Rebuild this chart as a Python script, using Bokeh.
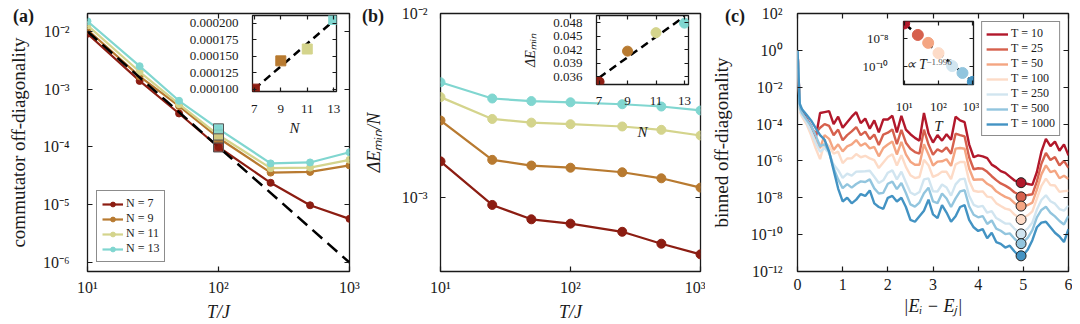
import numpy as np
from bokeh.plotting import figure
from bokeh.models import (Range1d, LinearAxis, FixedTicker, CustomJSTickFormatter,
                          PrintfTickFormatter, Legend, LegendItem, Label, Div)
from bokeh.layouts import row, column
from bokeh.embed import file_html
from bokeh.resources import INLINE

FONT = "Liberation Serif"
INK = "#1a1a1a"

# ---------------- data ----------------
T_vals = [10, 25, 50, 100, 250, 500, 1000]
N_vals = [7, 9, 11, 13]
N_labels = ["N = 7", "N = 9", "N = 11", "N = 13"]
T_labels = ["T = 10", "T = 25", "T = 50", "T = 100", "T = 250", "T = 500", "T = 1000"]
N_colors = ["#8c1d12", "#b87a30", "#d4d48c", "#80d6d0"]
T_colors = ["#b2182b", "#d6604d", "#f4a582", "#fddbc7", "#d1e5f0", "#92c5de", "#4393c3"]

# (a) commutator off-diagonality vs T
comm_N7 = [9.1e-3, 1.39e-3, 3.8e-4, 1.00e-4, 2.4e-5, 9.8e-6, 5.7e-6]
comm_N9 = [1.07e-2, 1.67e-3, 5.1e-4, 1.43e-4, 3.6e-5, 3.7e-5, 4.8e-5]
comm_N11 = [1.27e-2, 2.0e-3, 5.5e-4, 1.61e-4, 4.3e-5, 4.4e-5, 6.0e-5]
comm_N13 = [1.5e-2, 2.5e-3, 6.3e-4, 2.06e-4, 5.2e-5, 5.4e-5, 8.1e-5]
square_T = 100
comm_T100 = [1.00e-4, 1.43e-4, 1.61e-4, 2.06e-4]
power_T = [10, 1000]
power_comm = [1.0e-2, 1.0e-6]
fitA_N = [7, 13]
fitA_comm = [1.00e-4, 2.04e-4]

# (b) Delta E_min / N vs T
gap_N7 = [1.57e-3, 9.1e-4, 7.6e-4, 7.2e-4, 6.5e-4, 5.6e-4, 4.9e-4]
gap_N9 = [2.62e-3, 1.60e-3, 1.49e-3, 1.45e-3, 1.37e-3, 1.27e-3, 1.13e-3]
gap_N11 = [3.51e-3, 2.67e-3, 2.55e-3, 2.50e-3, 2.43e-3, 2.33e-3, 2.17e-3]
gap_N13 = [4.23e-3, 3.45e-3, 3.34e-3, 3.29e-3, 3.21e-3, 3.12e-3, 2.97e-3]
dEmin = [0.0349, 0.0417, 0.0458, 0.0479]
fitB_N = [7, 13]
fitB_dE = [0.0358, 0.0494]

# (c) binned off-diagonality (log10 values) vs |Ei - Ej|
E_bins = [0.0, 0.05] + [round(0.1 * k, 1) for k in range(1, 61)]
logoff_T10 = [0.0, -3.0, -3.3, -3.7, -4.1, -4.8, -3.4, -3.35, -3.3, -4.0, -3.6,
              -4.2, -3.9, -3.6, -3.35, -3.95, -3.7, -4.25, -3.8, -4.45, -3.75,
              -3.75, -3.55, -4.45, -3.55, -4.3, -4.55, -4.75, -4.9, -3.4, -4.5,
              -5.0, -4.6, -4.9, -4.55, -4.85, -3.6, -3.8, -3.9, -5.1, -5.8,
              -5.7, -5.75, -5.85, -6.2, -6.35, -6.55, -6.65, -6.85, -7.05, -7.15,
              -7.2, -7.25, -7.3, -6.6, -5.5, -4.8, -5.2, -4.95, -5.45, -5.1,
              -5.7]
logoff_T25 = [0.0, -3.1, -3.4, -3.8, -4.2, -4.5, -4.2, -4.0, -4.1, -4.6, -4.3,
              -4.88, -4.60, -4.40, -4.16, -4.60, -4.41, -4.82, -4.57, -5.14, -4.57,
              -4.47, -4.29, -5.09, -4.31, -5.01, -5.34, -5.52, -5.60, -4.30, -5.11,
              -5.66, -5.37, -5.50, -5.27, -5.61, -4.52, -4.60, -4.67, -5.80, -6.45,
              -6.40, -6.42, -6.59, -6.83, -7.04, -7.22, -7.34, -7.49, -7.70, -7.83,
              -7.86, -7.85, -7.81, -7.11, -6.15, -5.57, -5.95, -5.79, -6.24, -6.00,
              -6.38]
logoff_T50 = [0.0, -3.2, -3.5, -3.9, -4.4, -4.9, -5.3, -4.6, -4.8, -5.4, -5.1,
              -5.48, -5.21, -5.10, -4.87, -5.18, -5.04, -5.32, -5.24, -5.75, -5.30,
              -5.11, -4.94, -5.65, -4.97, -5.64, -6.04, -6.21, -6.21, -5.10, -5.65,
              -6.25, -6.04, -6.02, -5.91, -6.27, -5.33, -5.30, -5.34, -6.41, -7.02,
              -7.01, -7.01, -7.24, -7.38, -7.65, -7.81, -7.95, -8.05, -8.28, -8.43,
              -8.45, -8.39, -8.26, -7.56, -6.73, -6.24, -6.61, -6.53, -6.94, -6.80,
              -6.98]
logoff_T100 = [0.0, -3.3, -3.6, -4.0, -4.6, -5.3, -5.9, -5.0, -5.2, -5.6, -5.5,
               -6.12, -5.87, -5.86, -5.63, -5.80, -5.72, -5.86, -5.96, -6.39, -6.08,
               -5.79, -5.64, -6.25, -5.69, -6.32, -6.78, -6.93, -6.87, -5.94, -6.23,
               -6.87, -6.76, -6.58, -6.59, -6.99, -6.19, -6.06, -6.06, -7.07, -7.62,
               -7.67, -7.65, -7.94, -7.98, -8.29, -8.45, -8.59, -8.65, -8.90, -9.07,
               -9.07, -8.95, -8.74, -8.04, -7.35, -6.96, -7.31, -7.33, -7.68, -7.64,
               -7.62]
logoff_T250 = [0.0, -3.25, -3.5, -3.9, -4.4, -5.0, -5.5, -5.3, -5.6, -6.2, -6.5,
               -6.92, -6.69, -6.80, -6.58, -6.57, -6.56, -6.53, -6.86, -7.20, -7.05,
               -6.64, -6.51, -7.00, -6.58, -7.16, -7.71, -7.84, -7.69, -7.00, -6.95,
               -7.65, -7.66, -7.28, -7.44, -7.88, -7.27, -7.00, -6.96, -7.89, -8.38,
               -8.49, -8.44, -8.81, -8.72, -9.10, -9.24, -9.40, -9.40, -9.67, -9.87,
               -9.85, -9.66, -9.34, -8.64, -8.12, -7.86, -8.19, -8.32, -8.61, -8.70,
               -8.42]
logoff_T500 = [0.0, -3.1, -3.4, -3.75, -4.1, -4.6, -5.2, -5.1, -5.5, -6.4, -7.0,
               -7.48, -7.26, -7.45, -7.25, -7.11, -7.14, -7.00, -7.49, -7.77, -7.73,
               -7.24, -7.12, -7.53, -7.20, -7.74, -8.36, -8.48, -8.26, -7.75, -7.45,
               -8.20, -8.29, -7.77, -8.04, -8.50, -8.03, -7.65, -7.59, -8.46, -8.92,
               -9.06, -8.99, -9.42, -9.23, -9.67, -9.79, -9.97, -9.93, -10.21, -10.43,
               -10.40, -10.16, -9.76, -9.06, -8.66, -8.49, -8.81, -9.01, -9.26, -9.45,
               -8.98]
logoff_T1000 = [0.0, -2.9, -3.2, -3.5, -3.8, -4.2, -4.6, -4.85, -5.5, -6.5, -7.5,
                -8.2, -8.0, -8.3, -8.1, -7.8, -7.9, -7.6, -8.3, -8.5, -8.6,
                -8.0, -7.9, -8.2, -8.0, -8.5, -9.2, -9.3, -9.0, -8.7, -8.1,
                -8.9, -9.1, -8.4, -8.8, -9.3, -9.0, -8.5, -8.4, -9.2, -9.6,
                -9.8, -9.7, -10.2, -9.9, -10.4, -10.5, -10.7, -10.6, -10.9, -11.15,
                -11.1, -10.8, -10.3, -9.6, -9.35, -9.3, -9.6, -9.9, -10.1, -10.4,
                -9.7]
E_mark = 4.95
logoff_mark = [-7.18, -7.95, -8.45, -9.18, -9.96, -10.49, -11.15]
inset_logoff = [-6.93, -7.76, -8.33, -9.07, -10.0, -10.5, -11.14]
fitC_T = [10, 1000]
fitC_log = [-6.93, -11.14]

# ---------------- helpers ----------------
SUP = ("const m={'-':'\u207b','0':'\u2070','1':'\u00b9','2':'\u00b2','3':'\u00b3',"
       "'4':'\u2074','5':'\u2075','6':'\u2076','7':'\u2077','8':'\u2078','9':'\u2079'};"
       "const e=Math.round(Math.log10(tick));"
       "return '10'+String(e).split('').map(c=>m[c]).join('');")


def sup_fmt():
    return CustomJSTickFormatter(code=SUP)


def make_fig(w, h, xr, yr, xt, yt, bl, br, bt, bb, styles=None):
    kw = dict(width=w, height=h, x_range=xr, y_range=yr, x_axis_type=xt, y_axis_type=yt,
              output_backend="svg", toolbar_location=None,
              min_border_left=bl, min_border_right=br, min_border_top=bt, min_border_bottom=bb)
    if styles:
        kw["styles"] = styles
    p = figure(**kw)
    p.xgrid.visible = False
    p.ygrid.visible = False
    p.outline_line_color = INK
    p.outline_line_width = 1.3
    p.background_fill_color = "white"
    p.border_fill_color = None if styles else "white"
    return p


def style_axis(ax, ticks, fmt=None, fs="16px", standoff=8, label=None, lab_fs="18px",
               lab_style="normal", lab_standoff=8, tick_len=5, show=True):
    ax.ticker = FixedTicker(ticks=ticks, minor_ticks=[])
    if fmt is not None:
        ax.formatter = fmt
    ax.major_tick_in = tick_len
    ax.major_tick_out = 0
    ax.minor_tick_in = 0
    ax.minor_tick_out = 0
    ax.axis_line_color = None
    ax.major_tick_line_color = INK
    ax.major_tick_line_width = 1.2
    ax.major_label_text_font = FONT
    ax.major_label_text_color = INK
    if show:
        ax.major_label_text_font_size = fs
        ax.major_label_standoff = standoff
    else:
        ax.major_label_text_font_size = "0px"
        ax.major_label_standoff = 0
        ax.formatter = CustomJSTickFormatter(code="return '';")
    if label is not None:
        ax.axis_label = label
        ax.axis_label_text_font = FONT
        ax.axis_label_text_font_size = lab_fs
        ax.axis_label_text_font_style = lab_style
        ax.axis_label_text_color = INK
        ax.axis_label_standoff = lab_standoff


def add_mirrors(p, xticks, yticks, tick_len=5):
    ax = LinearAxis()
    style_axis(ax, xticks, show=False, tick_len=tick_len)
    p.add_layout(ax, "above")
    ay = LinearAxis()
    style_axis(ay, yticks, show=False, tick_len=tick_len)
    p.add_layout(ay, "right")


def panel_label(text, left, top):
    return Div(text="<b>%s</b>" % text, width=34, height=22,
               styles={"position": "absolute", "left": "%dpx" % left, "top": "%dpx" % top,
                       "font-family": FONT, "font-size": "18px", "color": INK,
                       "line-height": "20px", "margin": "0", "padding": "0"})


def style_legend(leg, fs="12px"):
    leg.label_text_font = FONT
    leg.label_text_font_size = fs
    leg.label_text_color = INK
    leg.border_line_color = INK
    leg.border_line_width = 1.3
    leg.background_fill_color = "white"
    leg.background_fill_alpha = 1.0
    leg.label_standoff = 3
    leg.margin = 0


# ---------------- panel (a) ----------------
a_xt = [10, 100, 1000]
a_yt = [1e-6, 1e-5, 1e-4, 1e-3, 1e-2]
pa = make_fig(360, 324, Range1d(10, 1000), Range1d(10 ** -6.155, 10 ** -1.69), "log", "log",
              87, 11, 13, 53)
style_axis(pa.xaxis[0], a_xt, sup_fmt(), standoff=7, label="T/J", lab_style="italic", lab_standoff=3)
style_axis(pa.yaxis[0], a_yt, sup_fmt(), standoff=18, label="commutator off-diagonality",
           lab_fs="19px", lab_standoff=11)
add_mirrors(pa, a_xt, a_yt)
items = []
for vals, col, lab in zip([comm_N7, comm_N9, comm_N11, comm_N13], N_colors, N_labels):
    lr = pa.line(T_vals, vals, line_color=col, line_width=2.2)
    sr = pa.scatter(T_vals, vals, size=7, color=col)
    items.append(LegendItem(label=lab, renderers=[lr, sr]))
pa.line(power_T, power_comm, line_color="black", line_width=2.5, line_dash="13 7")
pa.scatter([square_T] * len(comm_T100), comm_T100, marker="square", size=10,
           fill_color=N_colors, fill_alpha=0.85, line_color="#555555", line_width=1)
leg_a = Legend(items=items, location=(9, 9))
style_legend(leg_a)
leg_a.glyph_width = 21
leg_a.glyph_height = 12
leg_a.label_height = 12
leg_a.spacing = 0
leg_a.padding = 5
pa.add_layout(leg_a)

# ---------------- panel (b) ----------------
b_yt = [1e-3, 1e-2]
pb = make_fig(345, 324, Range1d(10, 1000), Range1d(10 ** -3.403, 10 ** -2), "log", "log",
              78, 5, 13, 53)
style_axis(pb.xaxis[0], a_xt, sup_fmt(), standoff=7, label="T/J", lab_style="italic", lab_standoff=3)
style_axis(pb.yaxis[0], b_yt, sup_fmt(), standoff=13, label="\u0394E\u2098\u1d62\u2099/N",
           lab_style="italic", lab_standoff=15)
add_mirrors(pb, a_xt, b_yt)
for vals, col in zip([gap_N7, gap_N9, gap_N11, gap_N13], N_colors):
    pb.line(T_vals, vals, line_color=col, line_width=2.2)
    pb.scatter(T_vals, vals, size=9, color=col)

# ---------------- panel (c) ----------------
c_xt = [0, 1, 2, 3, 4, 5, 6]
c_yt = [1e-12, 1e-10, 1e-8, 1e-6, 1e-4, 1e-2, 1e0, 1e2]
pc = make_fig(367, 324, Range1d(0, 6), Range1d(1e-12, 1e2), "linear", "log", 92, 4, 13, 53)
style_axis(pc.xaxis[0], c_xt, standoff=7, label="|E\u1d62 \u2212 E\u2c7c|", lab_style="italic",
           lab_standoff=3)
style_axis(pc.yaxis[0], c_yt, sup_fmt(), standoff=15, label="binned off-diagonality",
           lab_fs="19px", lab_standoff=16)
add_mirrors(pc, c_xt, c_yt)
c_items = []
for lo, col, lab in zip([logoff_T10, logoff_T25, logoff_T50, logoff_T100, logoff_T250,
                         logoff_T500, logoff_T1000], T_colors, T_labels):
    r = pc.line(E_bins, [10.0 ** v for v in lo], line_color=col, line_width=2.4)
    c_items.append(LegendItem(label=lab, renderers=[r]))
pc.scatter([E_mark] * len(logoff_mark), [10.0 ** v for v in logoff_mark], size=10,
           fill_color=T_colors, line_color="#222222", line_width=1)
leg_c = Legend(items=c_items, location="top_right")
style_legend(leg_c)
leg_c.margin = 8
leg_c.glyph_width = 22
leg_c.glyph_height = 12
leg_c.label_height = 12
leg_c.spacing = 0
leg_c.padding = 4
pc.add_layout(leg_c)

# ---------------- insets ----------------
ins_font = "13px"
ia = make_fig(170, 131, Range1d(6.86, 13.21), Range1d(0.0000964, 0.000212), "linear", "linear",
              72, 6, 5, 50, styles={"position": "absolute", "left": "172px", "top": "10px"})
ia_yt = [0.0001, 0.000125, 0.00015, 0.000175, 0.0002]
style_axis(ia.xaxis[0], N_vals, fs=ins_font, standoff=13, label="N", lab_fs="15px",
           lab_style="italic", lab_standoff=4, tick_len=4)
style_axis(ia.yaxis[0], ia_yt, PrintfTickFormatter(format="%.6f"), fs=ins_font, standoff=14, tick_len=4)
add_mirrors(ia, N_vals, ia_yt, tick_len=4)
ia.line(fitA_N, fitA_comm, line_color="black", line_width=2.5, line_dash="8 5")
ia.scatter(N_vals, comm_T100, marker="square", size=10, color=N_colors)

ib = make_fig(178, 136, Range1d(6.82, 13.28), Range1d(0.0343, 0.0496), "linear", "linear",
              80, 6, 5, 62, styles={"position": "absolute", "left": "516px", "top": "10px"})
ib_yt = [0.036, 0.039, 0.042, 0.045, 0.048]
style_axis(ib.xaxis[0], N_vals, fs=ins_font, standoff=12, label="N", lab_fs="15px",
           lab_style="italic", lab_standoff=16, tick_len=4)
style_axis(ib.yaxis[0], ib_yt, PrintfTickFormatter(format="%.3f"), fs=ins_font, standoff=14,
           label="\u0394E\u2098\u1d62\u2099", lab_fs="14px", lab_style="italic", lab_standoff=12,
           tick_len=4)
add_mirrors(ib, N_vals, ib_yt, tick_len=4)
ib.line(fitB_N, fitB_dE, line_color="black", line_width=2.5, line_dash="8 5")
ib.scatter(N_vals, dEmin, size=10, color=N_colors)

ic = make_fig(156, 120, Range1d(9.55, 1047), Range1d(10 ** -11.33, 10 ** -6.79), "log", "log",
              55, 6, 5, 52, styles={"position": "absolute", "left": "823px", "top": "16px"})
ic_yt = [1e-10, 1e-8]
style_axis(ic.xaxis[0], a_xt, sup_fmt(), fs=ins_font, standoff=14, label="T", lab_fs="15px",
           lab_style="italic", lab_standoff=1, tick_len=4)
style_axis(ic.yaxis[0], ic_yt, sup_fmt(), fs=ins_font, standoff=15, tick_len=4)
add_mirrors(ic, a_xt, ic_yt, tick_len=4)
ic.line(fitC_T, [10.0 ** v for v in fitC_log], line_color="black", line_width=2.5, line_dash="9 5")
ic.scatter(T_vals, [10.0 ** v for v in inset_logoff], size=11, color=T_colors)
ic.add_layout(Label(x=2, y=13, x_units="screen", y_units="screen", text="\u221d T",
                    text_font=FONT, text_font_size="14px", text_font_style="italic",
                    text_color=INK))
ic.add_layout(Label(x=23, y=20, x_units="screen", y_units="screen", text="\u22121.996",
                    text_font=FONT, text_font_size="9px", text_color="#555555"))

lab_a = panel_label("(a)", 13, 6)
lab_b = panel_label("(b)", 362, 6)
lab_c = panel_label("(c)", 725, 6)

layout = column(row(pa, pb, pc), ia, ib, ic, lab_a, lab_b, lab_c,
                styles={"position": "relative"})
open("out.html", "w").write(file_html(layout, INLINE))
